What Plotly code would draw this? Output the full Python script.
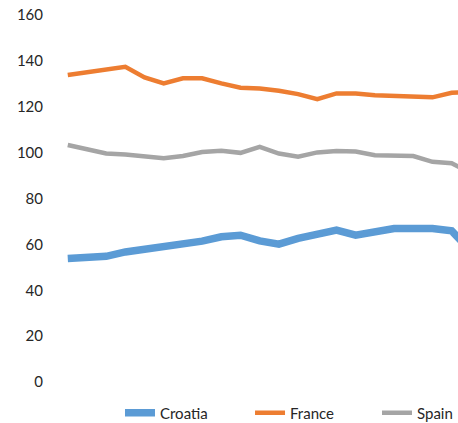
import plotly.graph_objects as go

periods = list(range(22))
croatia = [53.8, 54.3, 54.8, 56.7, 57.9, 58.9, 59.5, 61.4, 63.3, 64.0, 61.5, 60.1,
           62.6, 64.7, 66.2, 64.0, 65.8, 66.9, 66.9, 66.9, 65.9, 57.0]
france = [133.8, 135.0, 136.3, 137.4, 132.8, 130.2, 132.4, 132.4, 130.2, 128.3, 128.0,
          127.0, 125.5, 123.3, 125.8, 125.8, 125.0, 124.8, 124.3, 124.1, 126.1, 126.5]
spain = [103.3, 101.4, 99.6, 99.2, 98.5, 97.6, 98.5, 100.3, 100.8, 99.9, 102.5, 99.6,
         98.2, 100.1, 100.7, 100.5, 98.9, 98.6, 98.5, 96.0, 95.4, 91.0]
y_ticks = [0, 20, 40, 60, 80, 100, 120, 140, 160]

fig = go.Figure()
fig.add_trace(go.Scatter(x=periods, y=croatia, mode="lines", name="Croatia",
                         line=dict(color="#5B9BD5", width=7.5), legend="legend"))
fig.add_trace(go.Scatter(x=periods, y=france, mode="lines", name="France",
                         line=dict(color="#ED7D31", width=4.5), legend="legend2"))
fig.add_trace(go.Scatter(x=periods, y=spain, mode="lines", name="Spain",
                         line=dict(color="#A5A5A5", width=4.5), legend="legend3"))

leg = dict(orientation="h", xref="container", yref="container", y=0.0236,
           yanchor="middle", font=dict(size=15, color="#262626"), itemwidth=30,
           bgcolor="rgba(0,0,0,0)")

fig.update_layout(
    width=458, height=423,
    margin=dict(l=48, r=0, t=15, b=41, autoexpand=False),
    paper_bgcolor="white", plot_bgcolor="white",
    font=dict(family="Lato, Open Sans, sans-serif", size=15, color="#262626"),
    showlegend=True,
    legend=dict(leg, x=0.262, xanchor="left"),
    legend2=dict(leg, x=0.5459, xanchor="left"),
    legend3=dict(leg, x=1.0, xanchor="right"),
    xaxis=dict(range=[-1.03, 20.33], showticklabels=False, showgrid=False,
               zeroline=False, showline=False, ticks=""),
    yaxis=dict(range=[0, 160], tickvals=y_ticks, showgrid=False, zeroline=False,
               showline=False, ticks="", ticklabelstandoff=4,
               ticklabeloverflow="allow"),
)

fig.write_html("out.html", config={"displayModeBar": False},
               post_script="document.body.style.margin='0';document.body.style.overflow='hidden';")
